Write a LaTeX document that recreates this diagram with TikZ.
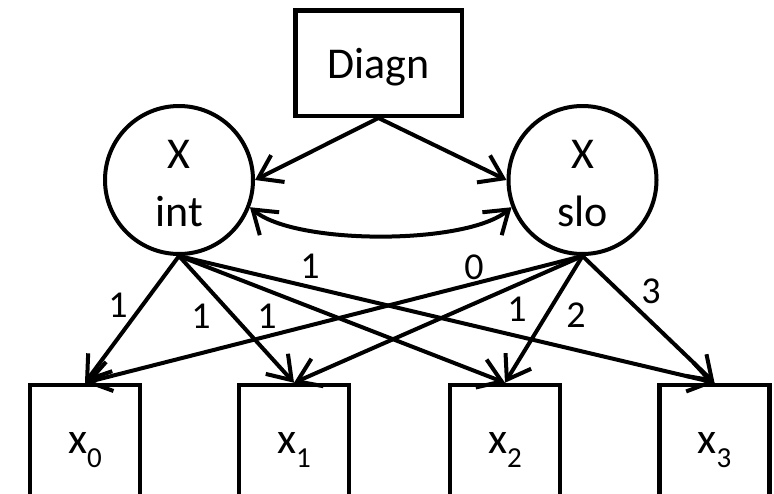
\documentclass[tikz,border=0pt]{standalone}
\usepackage{fontspec}
\setmainfont{Carlito}
\usetikzlibrary{arrows.meta}
\begin{document}
\begin{tikzpicture}[x=1pt,y=-1pt,
  every node/.style={font=\fontsize{44}{58}\selectfont},
  box/.style={draw,line width=4.5pt,rectangle,inner sep=0pt},
  latent/.style={draw,circle,line width=4pt,minimum size=148pt,inner sep=0pt,
    align=center,text height=92pt,text depth=0pt},
  obs/.style={box,minimum width=110pt,minimum height=120pt,text height=16pt,text depth=0pt},
  link/.style={line width=4pt,-{Straight Barb[length=22pt,width=30pt]}},
  twoway/.style={line width=4pt,{Straight Barb[length=22pt,width=30pt]}-{Straight Barb[length=22pt,width=30pt]}},
  wt/.style={font=\fontsize{38}{38}\selectfont,inner sep=0pt}
]
\useasboundingbox (0,0) rectangle (774,493);
\clip (0,0) rectangle (774,493);
\fill[white] (0,0) rectangle (774,493);

% nodes
\node[box,minimum width=166.5pt,minimum height=105.5pt,text height=30pt,text depth=0pt]
  (diag) at (378.5,63) {Diagn};
\node[latent] (int) at (179,180) {X\\int};
\node[latent] (slo) at (582.5,180) {X\\slo};
\newcommand{\obsname}[1]{x\raisebox{-14pt}{\fontsize{29}{29}\selectfont #1}}
\node[obs] (x0) at (85,445) {\obsname{0}};
\node[obs] (x1) at (294,445) {\obsname{1}};
\node[obs] (x2) at (505,445) {\obsname{2}};
\node[obs] (x3) at (714.5,445) {\obsname{3}};

% paths from the grouping variable
\draw[link] (diag.south) -- (int.east);
\draw[link] (diag.south) -- (slo.west);

% covariance between intercept and slope
\draw[twoway] (int.-21) .. controls +(45,38) and +(-45,38) .. (slo.-159);

% loadings
\draw[link] (int.south) -- (x0.north);
\draw[link] (int.south) -- (x1.north);
\draw[link] (int.south) -- (x2.north);
\draw[link] (int.south) -- (x3.north);
\draw[link] (slo.south) -- (x0.north);
\draw[link] (slo.south) -- (x1.north);
\draw[link] (slo.south) -- (x2.north);
\draw[link] (slo.south) -- (x3.north);

% loading values
\node[wt] (w0) at (118,305) {1};
\node[wt] (w1) at (201,316) {1};
\node[wt] (w2) at (267,316) {1};
\node[wt] (w3) at (310,266) {1};
\node[wt] (v0) at (474,267) {0};
\node[wt] (v1) at (517,309) {1};
\node[wt] (v2) at (576,315) {2};
\node[wt] (v3) at (651,291) {3};
\end{tikzpicture}
\end{document}
